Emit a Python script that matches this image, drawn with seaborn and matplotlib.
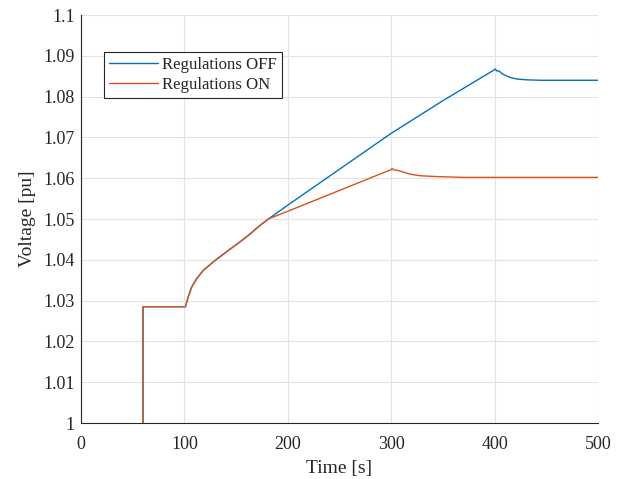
import numpy as np
import pandas as pd
import matplotlib
matplotlib.use("Agg")
import matplotlib.pyplot as plt
import seaborn as sns

# Data
time_off = [60, 60, 101, 103.8, 107, 111.9, 118.3, 128, 140.9, 153.8, 163.4, 172, 181.2,
            200, 250, 300, 350, 400, 400.6, 402, 404, 408, 415, 421.6, 432, 445, 470, 500]
volt_off = [1.0, 1.0285, 1.0285, 1.0310, 1.0333, 1.0354, 1.0374, 1.0395, 1.0420, 1.0444,
            1.0463, 1.0482, 1.0500, 1.0534, 1.0622, 1.0710, 1.0790, 1.0866,
            1.0868, 1.0863, 1.0863, 1.0855, 1.0847, 1.0843, 1.0841, 1.0840, 1.0840, 1.0840]

time_on = [60, 60, 101, 103.8, 107, 111.9, 118.3, 128, 140.9, 153.8, 163.4, 172, 181.2,
           200, 250, 289, 300, 301, 302, 308, 318, 328, 344, 370, 420, 500]
volt_on = [1.0, 1.0285, 1.0285, 1.0310, 1.0333, 1.0354, 1.0374, 1.0395, 1.0420, 1.0444,
           1.0463, 1.0482, 1.0500, 1.0519, 1.0570, 1.0610, 1.0621, 1.0624, 1.0621, 1.0618,
           1.0610, 1.0606, 1.0604, 1.0602, 1.0602, 1.0602]

series_names = ["Regulations OFF", "Regulations ON"]
x_ticks = [0, 100, 200, 300, 400, 500]
y_ticks = [1.0, 1.01, 1.02, 1.03, 1.04, 1.05, 1.06, 1.07, 1.08, 1.09, 1.1]
y_tick_labels = ["1", "1.01", "1.02", "1.03", "1.04", "1.05", "1.06", "1.07", "1.08", "1.09", "1.1"]

df = pd.concat([
    pd.DataFrame({"Time": time_off, "Voltage": volt_off, "Series": series_names[0]}),
    pd.DataFrame({"Time": time_on, "Voltage": volt_on, "Series": series_names[1]}),
], ignore_index=True)

sns.set_style("white")
plt.rcParams["font.family"] = ["Liberation Serif", "DejaVu Serif"]

fig = plt.figure(figsize=(6.24, 4.79), dpi=100)
ax = fig.add_axes([81 / 624, 1 - 423 / 479, 517 / 624, 408 / 479])

palette = {series_names[0]: "#0072BD", series_names[1]: "#D95319"}
sns.lineplot(data=df, x="Time", y="Voltage", hue="Series", palette=palette,
             sort=False, estimator=None, units="Series", linewidth=1.0, ax=ax)

ax.set_xlim(0, 500)
ax.set_ylim(1.0, 1.1)
ax.set_xticks(x_ticks)
ax.set_xticklabels([str(t) for t in x_ticks])
ax.set_yticks(y_ticks)
ax.set_yticklabels(y_tick_labels)
ax.grid(True, color="#e3e3e3", linewidth=0.8)
ax.set_axisbelow(True)
for s in ["top", "right"]:
    ax.spines[s].set_visible(False)
for s in ["left", "bottom"]:
    ax.spines[s].set_color("#262626")
    ax.spines[s].set_linewidth(0.8)
ax.tick_params(direction="in", length=4.5, width=0.8, color="#262626",
               labelsize=13, labelcolor="#262626")
ax.tick_params(axis="x", pad=9.5)
ax.tick_params(axis="y", pad=4.5)
ax.set_xlabel("Time [s]", fontsize=14, color="#262626", labelpad=5)
ax.set_ylabel("Voltage [pu]", fontsize=14, color="#262626", labelpad=5)

leg = ax.legend(loc="upper left", bbox_to_anchor=(0.0445, 0.909), fontsize=12.1,
                frameon=True, fancybox=False, edgecolor="#262626", framealpha=1,
                handlelength=2.9, borderpad=0.3, labelspacing=0.2, handletextpad=0.25,
                borderaxespad=0)
leg.get_frame().set_linewidth(0.8)

fig.savefig("out.png", dpi=100)
